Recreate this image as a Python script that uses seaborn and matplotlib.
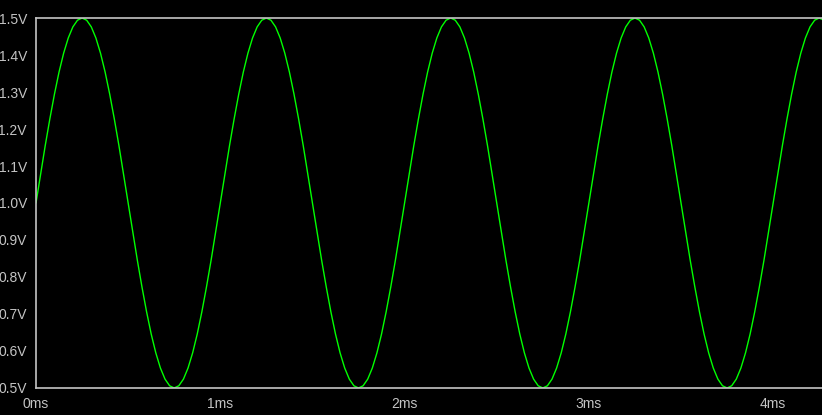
import pandas as pd
import matplotlib
matplotlib.use('Agg')
import matplotlib.pyplot as plt
import seaborn as sns

# Trace voltage, one sample every 0.025 ms
sample_ms = 0.025
volts = [
    1.000, 1.078, 1.155, 1.227, 1.294, 1.354, 1.405, 1.446, 1.476, 1.494,
    1.500, 1.494, 1.476, 1.446, 1.405, 1.354, 1.294, 1.227, 1.155, 1.078,
    1.000, 0.922, 0.845, 0.773, 0.706, 0.646, 0.595, 0.554, 0.524, 0.506,
    0.500, 0.506, 0.524, 0.554, 0.595, 0.646, 0.706, 0.773, 0.845, 0.922,
    1.000, 1.078, 1.155, 1.227, 1.294, 1.354, 1.405, 1.446, 1.476, 1.494,
    1.500, 1.494, 1.476, 1.446, 1.405, 1.354, 1.294, 1.227, 1.155, 1.078,
    1.000, 0.922, 0.845, 0.773, 0.706, 0.646, 0.595, 0.554, 0.524, 0.506,
    0.500, 0.506, 0.524, 0.554, 0.595, 0.646, 0.706, 0.773, 0.845, 0.922,
    1.000, 1.078, 1.155, 1.227, 1.294, 1.354, 1.405, 1.446, 1.476, 1.494,
    1.500, 1.494, 1.476, 1.446, 1.405, 1.354, 1.294, 1.227, 1.155, 1.078,
    1.000, 0.922, 0.845, 0.773, 0.706, 0.646, 0.595, 0.554, 0.524, 0.506,
    0.500, 0.506, 0.524, 0.554, 0.595, 0.646, 0.706, 0.773, 0.845, 0.922,
    1.000, 1.078, 1.155, 1.227, 1.294, 1.354, 1.405, 1.446, 1.476, 1.494,
    1.500, 1.494, 1.476, 1.446, 1.405, 1.354, 1.294, 1.227, 1.155, 1.078,
    1.000, 0.922, 0.845, 0.773, 0.706, 0.646, 0.595, 0.554, 0.524, 0.506,
    0.500, 0.506, 0.524, 0.554, 0.595, 0.646, 0.706, 0.773, 0.845, 0.922,
    1.000, 1.078, 1.155, 1.227, 1.294, 1.354, 1.405, 1.446, 1.476, 1.494,
    1.500, 1.494, 1.476,
]
time_ms = [i * sample_ms for i in range(len(volts))]

y_ticks = [0.5, 0.6, 0.7, 0.8, 0.9, 1.0, 1.1, 1.2, 1.3, 1.4, 1.5]
y_labels = ['0.5V', '0.6V', '0.7V', '0.8V', '0.9V', '1.0V', '1.1V', '1.2V', '1.3V', '1.4V', '1.5V']
x_ticks = [0, 1, 2, 3, 4]
x_labels = ['0ms', '1ms', '2ms', '3ms', '4ms']

df = pd.DataFrame({'t': time_ms, 'v': volts})

sns.set_style('dark', {'axes.facecolor': 'black', 'figure.facecolor': 'black'})
plt.rcParams['font.family'] = ['Liberation Sans', 'DejaVu Sans']

gray = '#c4c4c4'
fig = plt.figure(figsize=(8.22, 4.15), dpi=100)
ax = fig.add_axes([0.0438, 0.0651, 0.9562, 0.8915])
ax.set_facecolor('black')

sns.lineplot(data=df, x='t', y='v', color='#00ff00', linewidth=1.0, ax=ax)

ax.set_xlim(0, 4.265)
ax.set_ylim(0.5, 1.5)
ax.set_xticks(x_ticks)
ax.set_xticklabels(x_labels)
ax.set_yticks(y_ticks)
ax.set_yticklabels(y_labels)
ax.set_xlabel('')
ax.set_ylabel('')
ax.grid(False)

for side in ['left', 'bottom', 'top']:
    ax.spines[side].set_visible(True)
    ax.spines[side].set_color(gray)
    ax.spines[side].set_linewidth(1.2)
ax.spines['right'].set_visible(False)

ax.tick_params(axis='both', colors=gray, length=5, width=1.2, direction='out',
               labelsize=10, pad=1.5)

fig.savefig('out.png', dpi=100, facecolor='black')
